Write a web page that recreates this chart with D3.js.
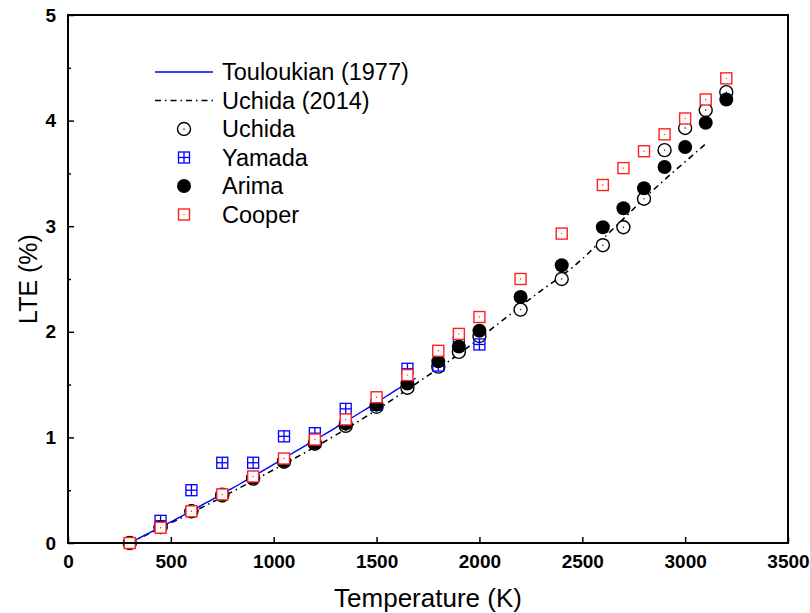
<!DOCTYPE html>
<html>
<head>
<meta charset="utf-8">
<script src="https://cdn.jsdelivr.net/npm/d3@7"></script>
<style>
  html, body { margin: 0; padding: 0; background: #fff; }
  svg { display: block; font-family: "Liberation Sans", Arial, sans-serif; }
</style>
</head>
<body>
<svg id="chart" width="810" height="613"></svg>
<script>
// Linear thermal expansion (LTE) versus temperature

const tempTicks = [0, 500, 1000, 1500, 2000, 2500, 3000, 3500];
const lteTicks = [0, 1, 2, 3, 4, 5];
const lteMinorTicks = [0.5, 1.5, 2.5, 3.5, 4.5];

// Recommended curves
const touloukianT   = [300, 400, 500, 600, 700, 800, 900, 1000, 1100, 1200, 1300, 1400, 1500, 1600, 1690];
const touloukianLTE = [0, 0.1, 0.2, 0.305, 0.41, 0.52, 0.63, 0.745, 0.86, 0.975, 1.09, 1.21, 1.33, 1.455, 1.56];

const uchidaFitT   = [300, 500, 700, 900, 1100, 1300, 1500, 1700, 1900, 2100, 2300, 2400, 2500, 2600, 2700, 2800, 2900, 3000, 3100];
const uchidaFitLTE = [0, 0.19, 0.385, 0.59, 0.8, 1.02, 1.26, 1.52, 1.79, 2.09, 2.39, 2.53, 2.69, 2.88, 3.07, 3.26, 3.44, 3.61, 3.78];

// Measurements
const uchidaT   = [300, 450, 600, 750, 900, 1050, 1200, 1350, 1500, 1650, 1800, 1900, 2000, 2200, 2400, 2600, 2700, 2800, 2900, 3000, 3100, 3200];
const uchidaLTE = [0, 0.15, 0.30, 0.45, 0.61, 0.77, 0.94, 1.11, 1.29, 1.47, 1.67, 1.81, 1.96, 2.21, 2.50, 2.82, 2.99, 3.26, 3.72, 3.93, 4.10, 4.27];

const yamadaT   = [450, 600, 750, 900, 1050, 1200, 1350, 1500, 1650, 1800, 1900, 2000];
const yamadaLTE = [0.21, 0.50, 0.76, 0.76, 1.01, 1.04, 1.27, 1.31, 1.65, 1.68, 1.90, 1.88];

const arimaT   = [300, 450, 600, 750, 900, 1050, 1200, 1350, 1500, 1650, 1800, 1900, 2000, 2200, 2400, 2600, 2700, 2800, 2900, 3000, 3100, 3200];
const arimaLTE = [0, 0.15, 0.30, 0.46, 0.62, 0.78, 0.95, 1.13, 1.31, 1.51, 1.72, 1.86, 2.01, 2.33, 2.63, 2.99, 3.17, 3.36, 3.56, 3.75, 3.98, 4.20];

const cooperT   = [300, 450, 600, 750, 900, 1050, 1200, 1350, 1500, 1650, 1800, 1900, 2000, 2200, 2400, 2600, 2700, 2800, 2900, 3000, 3100, 3200];
const cooperLTE = [0, 0.145, 0.30, 0.46, 0.63, 0.80, 0.98, 1.17, 1.38, 1.59, 1.82, 1.98, 2.14, 2.50, 2.93, 3.39, 3.55, 3.71, 3.87, 4.02, 4.20, 4.40];

const legendLabels = ["Touloukian (1977)", "Uchida (2014)", "Uchida", "Yamada", "Arima", "Cooper"];

const zip = (xs, ys) => xs.map((x, i) => [x, ys[i]]);

const svg = d3.select("#chart");
const margin = { left: 68, right: 22, top: 15, bottom: 70 };
const W = 810, H = 613;

const x = d3.scaleLinear().domain([0, 3500]).range([margin.left, W - margin.right]);
const y = d3.scaleLinear().domain([0, 5]).range([H - margin.bottom, margin.top]);

const BLUE = "#0000ff";
const RED = "#ff2020";

// Curves
const line = d3.line().x(d => x(d[0])).y(d => y(d[1]));

svg.append("path")
  .datum(zip(uchidaFitT, uchidaFitLTE))
  .attr("d", line.curve(d3.curveMonotoneX))
  .attr("fill", "none").attr("stroke", "#000").attr("stroke-width", 1.6)
  .attr("stroke-dasharray", "6,4,1.5,4");

svg.append("path")
  .datum(zip(touloukianT, touloukianLTE))
  .attr("d", line.curve(d3.curveMonotoneX))
  .attr("fill", "none").attr("stroke", BLUE).attr("stroke-width", 1.4);

// Marker painters
function openCircle(g, cx, cy) {
  g.append("circle").attr("cx", cx).attr("cy", cy).attr("r", 6.5)
    .attr("fill", "#fff").attr("stroke", "#000").attr("stroke-width", 1.4);
  g.append("circle").attr("cx", cx).attr("cy", cy).attr("r", 0.7).attr("fill", "#000");
}
function gridSquare(g, cx, cy) {
  const s = 5.5;
  g.append("rect").attr("x", cx - s).attr("y", cy - s).attr("width", 2 * s).attr("height", 2 * s)
    .attr("fill", "none").attr("stroke", BLUE).attr("stroke-width", 1.3);
  g.append("line").attr("x1", cx - s).attr("x2", cx + s).attr("y1", cy).attr("y2", cy)
    .attr("stroke", BLUE).attr("stroke-width", 1.3);
  g.append("line").attr("x1", cx).attr("x2", cx).attr("y1", cy - s).attr("y2", cy + s)
    .attr("stroke", BLUE).attr("stroke-width", 1.3);
}
function filledCircle(g, cx, cy) {
  g.append("circle").attr("cx", cx).attr("cy", cy).attr("r", 7).attr("fill", "#000");
}
function dotSquare(g, cx, cy) {
  const s = 5.5;
  g.append("rect").attr("x", cx - s).attr("y", cy - s).attr("width", 2 * s).attr("height", 2 * s)
    .attr("fill", "#fff").attr("stroke", RED).attr("stroke-width", 1.4);
  g.append("circle").attr("cx", cx).attr("cy", cy).attr("r", 0.7).attr("fill", RED);
}

const series = [
  { t: uchidaT, v: uchidaLTE, draw: openCircle },
  { t: yamadaT, v: yamadaLTE, draw: gridSquare },
  { t: arimaT, v: arimaLTE, draw: filledCircle },
  { t: cooperT, v: cooperLTE, draw: dotSquare }
];
series.forEach(s => {
  const g = svg.append("g");
  zip(s.t, s.v).forEach(d => s.draw(g, x(d[0]), y(d[1])));
});

// Axes: ticks point inwards
const axisG = svg.append("g");
axisG.append("g")
  .attr("transform", `translate(0,${y(0)})`)
  .call(d3.axisBottom(x).tickValues(tempTicks).tickSize(-6).tickPadding(12).tickFormat(d3.format("d")))
  .call(g => g.select(".domain").remove());
axisG.append("g")
  .attr("transform", `translate(${x(0)},0)`)
  .call(d3.axisLeft(y).tickValues(lteTicks).tickSize(-6).tickPadding(12).tickFormat(d3.format("d")))
  .call(g => g.select(".domain").remove());
axisG.append("g")
  .attr("transform", `translate(${x(0)},0)`)
  .call(d3.axisLeft(y).tickValues(lteMinorTicks).tickSize(-3).tickFormat(""))
  .call(g => g.select(".domain").remove());

axisG.selectAll(".tick line").attr("stroke", "#000").attr("stroke-width", 1.5);
axisG.selectAll(".tick text")
  .attr("fill", "#000").style("font-size", "19px").style("font-weight", "bold")
  .style("font-family", "'Liberation Sans', Arial, sans-serif");

// Frame
svg.append("rect")
  .attr("x", x(0)).attr("y", y(5)).attr("width", x(3500) - x(0)).attr("height", y(0) - y(5))
  .attr("fill", "none").attr("stroke", "#000").attr("stroke-width", 2);

// Axis titles
svg.append("text")
  .attr("x", (x(0) + x(3500)) / 2).attr("y", 607)
  .attr("text-anchor", "middle").style("font-size", "26px")
  .text("Temperature (K)");
svg.append("text")
  .attr("transform", `translate(37,${(y(0) + y(5)) / 2}) rotate(-90)`)
  .attr("text-anchor", "middle").style("font-size", "25px")
  .text("LTE (%)");

// Legend
const legend = svg.append("g");
const legY0 = 72, legStep = 28.5, legSymX = 184, legTextX = 222;
legendLabels.forEach((lab, i) => {
  const ly = legY0 + i * legStep;
  if (i === 0) {
    legend.append("line").attr("x1", 155).attr("x2", 213).attr("y1", ly).attr("y2", ly)
      .attr("stroke", BLUE).attr("stroke-width", 1.4);
  } else if (i === 1) {
    legend.append("line").attr("x1", 155).attr("x2", 213).attr("y1", ly).attr("y2", ly)
      .attr("stroke", "#000").attr("stroke-width", 1.6).attr("stroke-dasharray", "6,4,1.5,4");
  } else {
    series[i - 2].draw(legend, legSymX, ly);
  }
  legend.append("text").attr("x", legTextX).attr("y", ly + 8)
    .style("font-size", "23.5px").text(lab);
});
</script>
</body>
</html>
